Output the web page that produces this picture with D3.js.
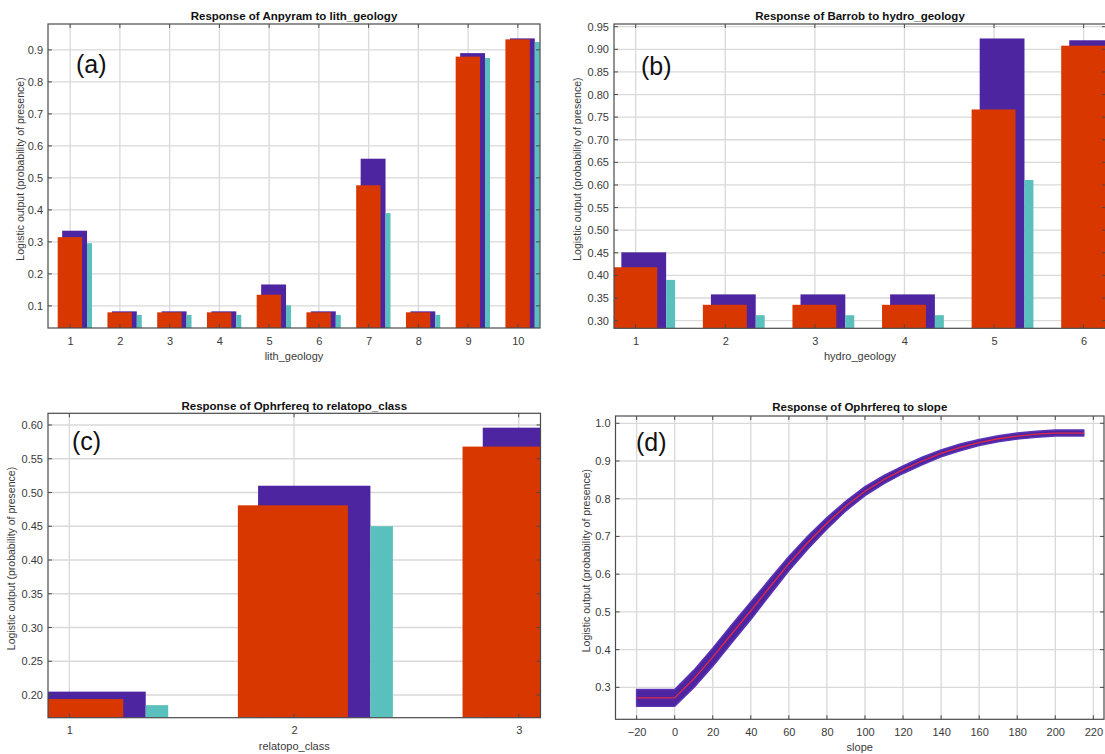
<!DOCTYPE html>
<html><head><meta charset="utf-8">
<script src="https://cdn.jsdelivr.net/npm/d3@7"></script>
<style>
body{margin:0;background:#fff}
svg{display:block}
text{font-family:"Liberation Sans",Arial,sans-serif}
</style>
</head><body>
<svg id="chart" width="1105" height="754"></svg>
<script>
// ---------- DATA ----------
// (a) Anpyram ~ lith_geology
const catsA  = [1,2,3,4,5,6,7,8,9,10];
const meanA  = [0.315,0.080,0.080,0.080,0.135,0.080,0.477,0.080,0.879,0.933];
const upperA = [0.335,0.083,0.083,0.083,0.167,0.083,0.560,0.083,0.890,0.936];
const lowerA = [0.296,0.072,0.072,0.072,0.102,0.072,0.390,0.072,0.875,0.925];
const yTicksA = [0.1,0.2,0.3,0.4,0.5,0.6,0.7,0.8,0.9];

// (b) Barrob ~ hydro_geology
const catsB  = [1,2,3,4,5,6];
const meanB  = [0.418,0.335,0.335,0.335,0.767,0.908];
const upperB = [0.451,0.358,0.358,0.358,0.924,0.920];
const lowerB = [0.390,0.312,0.312,0.312,0.611,0.896];
const yTicksB = [0.30,0.35,0.40,0.45,0.50,0.55,0.60,0.65,0.70,0.75,0.80,0.85,0.90,0.95];

// (c) Ophrfereq ~ relatopo_class
const catsC  = [1,2,3];
const meanC  = [0.194,0.481,0.568];
const upperC = [0.205,0.510,0.596];
const lowerC = [0.185,0.450,0.540];
const yTicksC = [0.20,0.25,0.30,0.35,0.40,0.45,0.50,0.55,0.60];

// (d) Ophrfereq ~ slope
const slopeD = [-20,0,10,20,30,40,50,60,70,80,90,100,110,120,130,140,150,160,170,180,190,200,215];
const meanD  = [0.272,0.272,0.322,0.380,0.442,0.503,0.566,0.628,0.684,0.735,0.781,0.820,0.851,0.877,0.900,0.920,0.936,0.949,0.959,0.966,0.971,0.974,0.974];
const upperD = [0.294,0.294,0.345,0.404,0.466,0.526,0.587,0.647,0.701,0.750,0.794,0.832,0.862,0.887,0.910,0.929,0.945,0.957,0.967,0.974,0.979,0.982,0.982];
const lowerD = [0.250,0.250,0.299,0.356,0.418,0.480,0.545,0.609,0.667,0.720,0.768,0.808,0.840,0.867,0.890,0.911,0.927,0.941,0.951,0.958,0.963,0.966,0.966];
const xTicksD = [-20,0,20,40,60,80,100,120,140,160,180,200,220];
const yTicksD = [0.3,0.4,0.5,0.6,0.7,0.8,0.9,1.0];

// ---------- STYLE ----------
const RED = "#d83800", PURPLE = "#4d25a0", CYAN = "#5ac0bd";
const GRID = "#d9d9d9", FRAME = "#4a4a4a", TXT = "#3a3a3a";
const YLABEL = "Logistic output (probability of presence)";
// bar offsets relative to category centre (in category units)
const OFF = {red:[-0.25,0.24], purple:[-0.16,0.34], cyan:[0.34,0.44]};

const svg = d3.select("#chart");
let clipId = 0;

function basePanel(cfg){
  const g = svg.append("g");
  const x = d3.scaleLinear().domain(cfg.xDomain).range([cfg.left, cfg.right]);
  const y = d3.scaleLinear().domain(cfg.yDomain).range([cfg.bottom, cfg.top]);
  const id = "clip" + (clipId++);
  g.append("clipPath").attr("id", id).append("rect")
    .attr("x", cfg.left).attr("y", cfg.top)
    .attr("width", cfg.right - cfg.left).attr("height", cfg.bottom - cfg.top);

  // grid
  const grid = g.append("g");
  grid.selectAll("line.gx").data(cfg.xTicks).join("line").attr("class","gx")
    .attr("x1", d=>x(d)).attr("x2", d=>x(d)).attr("y1", cfg.top).attr("y2", cfg.bottom)
    .attr("stroke", GRID).attr("stroke-width", 1.3);
  grid.selectAll("line.gy").data(cfg.yTicks).join("line").attr("class","gy")
    .attr("y1", d=>y(d)).attr("y2", d=>y(d)).attr("x1", cfg.left).attr("x2", cfg.right)
    .attr("stroke", GRID).attr("stroke-width", 1.3);

  const plot = g.append("g").attr("clip-path", `url(#${id})`);

  // frame
  const frame = g.append("g");
  frame.append("rect").attr("x", cfg.left).attr("y", cfg.top)
    .attr("width", cfg.right - cfg.left).attr("height", cfg.bottom - cfg.top)
    .attr("fill","none").attr("stroke", FRAME).attr("stroke-width", 1.2);
  // inner tick marks
  const tl = 4;
  cfg.xTicks.forEach(t=>{
    frame.append("line").attr("x1",x(t)).attr("x2",x(t)).attr("y1",cfg.bottom).attr("y2",cfg.bottom-tl).attr("stroke",FRAME);
    frame.append("line").attr("x1",x(t)).attr("x2",x(t)).attr("y1",cfg.top).attr("y2",cfg.top+tl).attr("stroke",FRAME);
  });
  cfg.yTicks.forEach(t=>{
    frame.append("line").attr("y1",y(t)).attr("y2",y(t)).attr("x1",cfg.left).attr("x2",cfg.left+tl).attr("stroke",FRAME);
    frame.append("line").attr("y1",y(t)).attr("y2",y(t)).attr("x1",cfg.right).attr("x2",cfg.right-tl).attr("stroke",FRAME);
  });

  // axes labels via d3 axes
  const ax = g.append("g").attr("transform", `translate(0,${cfg.bottom})`)
    .call(d3.axisBottom(x).tickValues(cfg.xTicks).tickSize(0).tickPadding(9).tickFormat(cfg.xFmt || d3.format("d")));
  const ay = g.append("g").attr("transform", `translate(${cfg.left},0)`)
    .call(d3.axisLeft(y).tickValues(cfg.yTicks).tickSize(0).tickPadding(5).tickFormat(d3.format(cfg.yFmt)));
  [ax, ay].forEach(a=>{
    a.select(".domain").remove();
    a.selectAll("text").attr("font-size", 11).attr("fill", TXT)
      .attr("font-family", '"Liberation Sans",Arial,sans-serif');
  });

  // titles
  g.append("text").attr("x", (cfg.left + cfg.right)/2).attr("y", cfg.titleY)
    .attr("text-anchor","middle").attr("font-size", 11.5).attr("font-weight","bold")
    .attr("fill","#111").text(cfg.title);
  g.append("text").attr("x", (cfg.left + cfg.right)/2).attr("y", cfg.bottom + 32)
    .attr("text-anchor","middle").attr("font-size", 11).attr("fill", TXT).text(cfg.xLabel);
  g.append("text").attr("transform", `translate(${cfg.yTitleX},${(cfg.top+cfg.bottom)/2 - 7}) rotate(-90)`)
    .attr("text-anchor","middle").attr("dominant-baseline","middle")
    .attr("font-size", 10.5).attr("fill", TXT).text(YLABEL);
  g.append("text").attr("x", cfg.letterX).attr("y", cfg.letterY)
    .attr("font-size", 25).attr("fill","#111").text(cfg.letter);

  return {g, x, y, plot};
}

function barPanel(cfg, cats, mean, upper, lower){
  const {x, y, plot} = basePanel(cfg);
  const base = cfg.yDomain[0];
  const draw = (vals, off, color) => {
    plot.append("g").selectAll("rect").data(cats.map((c,i)=>({c, v: vals[i]}))).join("rect")
      .attr("x", d=>x(d.c + off[0]))
      .attr("width", d=>x(d.c + off[1]) - x(d.c + off[0]))
      .attr("y", d=>y(d.v))
      .attr("height", d=>y(base) - y(d.v))
      .attr("fill", color);
  };
  draw(upper, OFF.purple, PURPLE);
  draw(mean, OFF.red, RED);
  draw(lower, OFF.cyan, CYAN);
}

// (a)
barPanel({left:48, right:540, top:24, bottom:328,
  xDomain:[0.555,10.445], yDomain:[0.031,0.981],
  xTicks:catsA, yTicks:yTicksA, yFmt:".1f",
  title:"Response of Anpyram to lith_geology", titleY:20, xLabel:"lith_geology",
  yTitleX:21, letter:"(a)", letterX:76, letterY:73}, catsA, meanA, upperA, lowerA);

// (b)
barPanel({left:614, right:1106, top:24, bottom:328.3,
  xDomain:[0.758,6.25], yDomain:[0.283,0.956],
  xTicks:catsB, yTicks:yTicksB, yFmt:".2f",
  title:"Response of Barrob to hydro_geology", titleY:20, xLabel:"hydro_geology",
  yTitleX:578, letter:"(b)", letterX:641, letterY:75}, catsB, meanB, upperB, lowerB);

// (c)
barPanel({left:48, right:540.5, top:413.3, bottom:717.7,
  xDomain:[0.905,3.097], yDomain:[0.1664,0.6173],
  xTicks:catsC, yTicks:yTicksC, yFmt:".2f",
  title:"Response of Ophrfereq to relatopo_class", titleY:409.5, xLabel:"relatopo_class",
  yTitleX:12.5, letter:"(c)", letterX:72, letterY:450}, catsC, meanC, upperC, lowerC);

// (d)
(function(){
  const cfg = {left:615.5, right:1104, top:416, bottom:719.3,
    xDomain:[-31.1,225.6], yDomain:[0.2153,1.0193],
    xTicks:xTicksD, yTicks:yTicksD, yFmt:".1f",
    title:"Response of Ophrfereq to slope", titleY:411, xLabel:"slope",
    yTitleX:587, letter:"(d)", letterX:636, letterY:451};
  const {x, y, plot} = basePanel(cfg);
  const pts = slopeD.map((s,i)=>({s, m:meanD[i], u:upperD[i], l:lowerD[i]}));
  plot.append("path").datum(pts)
    .attr("d", d3.area().x(d=>x(d.s)).y0(d=>y(d.l)).y1(d=>y(d.u)).curve(d3.curveLinear))
    .attr("fill", PURPLE).attr("stroke", "#5b34b8").attr("stroke-width", 1.5).attr("stroke-linejoin","round");
  plot.append("path").datum(pts)
    .attr("d", d3.line().x(d=>x(d.s)).y(d=>y(d.m)).curve(d3.curveLinear))
    .attr("fill","none").attr("stroke","#e0284a").attr("stroke-width", 1.3);
})();
</script>
</body></html>
